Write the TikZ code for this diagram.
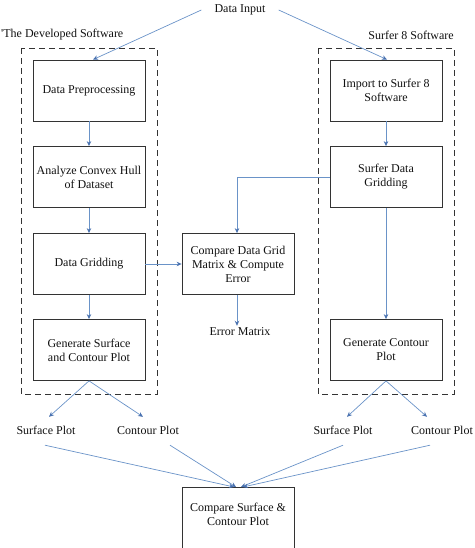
\documentclass[tikz,border=0pt]{standalone}
\usepackage{fontspec}
\setmainfont{Liberation Serif}
\usetikzlibrary{arrows.meta}
\definecolor{arrowblue}{HTML}{6A93C8}
\definecolor{tipblue}{HTML}{4A72B0}
\definecolor{txt}{HTML}{111111}
\tikzset{
  procbox/.style={draw=black!80, line width=0.8pt, minimum width=112pt, minimum height=61pt, align=center, text=txt, font=\fontsize{12}{14}\selectfont, inner sep=2pt},
  lbl/.style={text=txt, font=\fontsize{12}{14}\selectfont, inner sep=2pt},
  plotlbl/.style={lbl, text height=9pt, text depth=3pt, inner ysep=8pt},
  arr/.style={draw=arrowblue, line width=0.7pt, -{Stealth[length=5pt,width=4.5pt,color=tipblue]}},
  group/.style={draw=black!80, line width=0.9pt, dash pattern=on 6pt off 4pt}
}
\begin{document}
\begin{tikzpicture}[x=1pt,y=-1pt]
\useasboundingbox (0,0) rectangle (474,548);
% dashed groups
\draw[group] (21,48) rectangle (157,394);
\draw[group] (318,48) rectangle (454,394);
% labels
\node[lbl, inner xsep=13pt] (in) at (240,10) {Data Input};
\node[lbl, anchor=west] (ldev) at (-1,35) {\textquotesingle The Developed Software};
\node[lbl, anchor=east] (lsurf) at (456,35) {Surfer 8 Software};
% left column
\node[procbox] (pre) at (89,90.5) {Data Preprocessing};
\node[procbox] (hull) at (89,177) {Analyze Convex Hull\\of Dataset};
\node[procbox] (grid) at (89,264) {Data Gridding};
\node[procbox] (gen) at (89,350) {Generate Surface\\and Contour Plot};
% right column
\node[procbox] (imp) at (386,90.5) {Import to Surfer 8\\Software};
\node[procbox] (sgrid) at (386,177) {Surfer Data\\Gridding};
\node[procbox] (sgen) at (386,350) {Generate Contour\\Plot};
% middle
\node[procbox] (cmpg) at (238,264) {Compare Data Grid\\Matrix \& Compute\\Error};
\node[lbl] (err) at (240,332) {Error Matrix};
% plot labels
\node[plotlbl] (sp1) at (46,431) {Surface Plot};
\node[plotlbl] (cp1) at (148,431) {Contour Plot};
\node[plotlbl] (sp2) at (343,431) {Surface Plot};
\node[plotlbl] (cp2) at (442,431) {Contour Plot};
% bottom box
\node[procbox, anchor=north, minimum height=0pt, inner ysep=16pt] (cmp) at (238,487) {Compare Surface \&\\Contour Plot\\[20pt]};
% connectors
\draw[arr] (in.west) -- ([xshift=4pt]pre.north);
\draw[arr] (in.east) -- ([xshift=1pt]imp.north);
\draw[arr] (pre) -- (hull);
\draw[arr] (hull) -- (grid);
\draw[arr] (grid) -- (gen);
\draw[arr] (imp) -- (sgrid);
\draw[arr] (sgrid) -- (sgen);
\draw[arr] (sgrid.west) -| ([xshift=-1pt]cmpg.north);
\draw[arr] (grid) -- (cmpg);
\draw[arr] ([xshift=-1pt]cmpg.south) -- ([xshift=-1pt]cmpg.south |- err.north);
\draw[arr] (gen.south) -- ([xshift=3pt]sp1.north);
\draw[arr] (gen.south) -- ([xshift=-5pt]cp1.north);
\draw[arr] (sgen.south) -- ([xshift=4pt]sp2.north);
\draw[arr] (sgen.south) -- ([xshift=-15pt]cp2.north);
\draw[arr] ([xshift=-1pt]sp1.south) -- ([xshift=-4pt]cmp.north);
\draw[arr] ([xshift=22pt]cp1.south) -- ([xshift=-2pt]cmp.north);
\draw[arr] (sp2.south) -- ([xshift=3pt]cmp.north);
\draw[arr] ([xshift=-12pt]cp2.south) -- ([xshift=5pt]cmp.north);
\end{tikzpicture}
\end{document}
